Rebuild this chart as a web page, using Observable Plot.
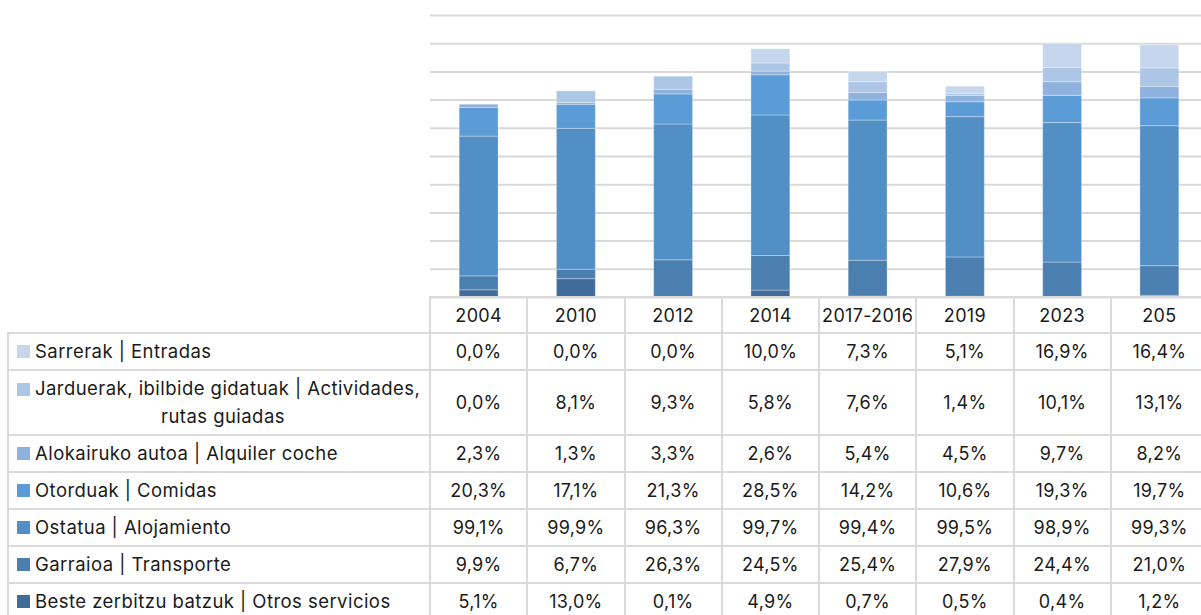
<!DOCTYPE html>
<html><head><meta charset="utf-8">
<script src="https://cdn.jsdelivr.net/npm/d3@7"></script>
<script src="https://cdn.jsdelivr.net/npm/@observablehq/plot@0.6"></script>
<style>
body{margin:0;background:#fff;font-family:Inter,"Open Sans",sans-serif;}
#wrap{position:relative;width:1201px;height:615px;overflow:hidden;}
#wrap svg{position:absolute;left:0;top:0;}
.cell{position:absolute;box-sizing:border-box;border:2px solid #dadada;display:flex;align-items:center;justify-content:center;font-size:18px;letter-spacing:0.3px;color:#1a1a1a;line-height:1.5;white-space:nowrap;}
.lab{justify-content:flex-start;padding-left:8px;font-size:18.5px;letter-spacing:0.45px;}
.sw{display:inline-block;width:13px;height:13px;margin-right:5px;vertical-align:-1px;}
</style></head><body><div id="wrap"></div>
<script>
// ---- data ----
const years = ["2004","2010","2012","2014","2017-2016","2019","2023","205"];
const seriesNames = [
  "Sarrerak | Entradas",
  "Jarduerak, ibilbide gidatuak | Actividades, rutas guiadas",
  "Alokairuko autoa | Alquiler coche",
  "Otorduak | Comidas",
  "Ostatua | Alojamiento",
  "Garraioa | Transporte",
  "Beste zerbitzu batzuk | Otros servicios"
];
const sarrerak   = [0.0, 0.0, 0.0, 10.0, 7.3, 5.1, 16.9, 16.4];
const jarduerak  = [0.0, 8.1, 9.3, 5.8, 7.6, 1.4, 10.1, 13.1];
const alokairuko = [2.3, 1.3, 3.3, 2.6, 5.4, 4.5, 9.7, 8.2];
const otorduak   = [20.3, 17.1, 21.3, 28.5, 14.2, 10.6, 19.3, 19.7];
const ostatua    = [99.1, 99.9, 96.3, 99.7, 99.4, 99.5, 98.9, 99.3];
const garraioa   = [9.9, 6.7, 26.3, 24.5, 25.4, 27.9, 24.4, 21.0];
const beste      = [5.1, 13.0, 0.1, 4.9, 0.7, 0.5, 0.4, 1.2];
const colors = ["#c6d7ed","#adc6e6","#8eb1dd","#5b9bd6","#528fc4","#4b7fb0","#416c99"];
const yTicks = d3.range(0, 201, 20);

const seriesValues = [sarrerak, jarduerak, alokairuko, otorduak, ostatua, garraioa, beste];
const stackOrder = seriesNames.slice().reverse();
const data = [];
stackOrder.forEach(s => {
  const vals = seriesValues[seriesNames.indexOf(s)];
  years.forEach((y, i) => data.push({year: y, series: s, value: vals[i]}));
});

const W = 1201, LEFT = 430;
const plot = Plot.plot({
  width: W, height: 298,
  marginTop: 15, marginBottom: 1, marginLeft: LEFT, marginRight: 0,
  style: {background: "transparent", overflow: "visible"},
  x: {type: "band", domain: years, range: [LEFT, 1208], paddingInner: 0.6, paddingOuter: 0.3, round: false, axis: null},
  y: {domain: [0, 200], axis: null},
  color: {domain: seriesNames, range: colors},
  marks: [
    Plot.ruleY(yTicks, {stroke: "#d9d9d9", strokeWidth: 2}),
    Plot.barY(data, {x: "year", y: "value", fill: "series", order: stackOrder,
      stroke: "white", strokeOpacity: 0.3, strokeWidth: 1})
  ]
});
const wrap = document.getElementById("wrap");
wrap.appendChild(plot);

// ---- data table below the chart ----
const xs = plot.scale("x");
const step = xs.step, bw = xs.bandwidth;
const colLeft = years.map(y => xs.apply(y) - (step - bw) / 2);
const fmt = v => v.toFixed(1).replace(".", ",") + "%";

function cell(x, y, w, h, html, cls) {
  const d = document.createElement("div");
  d.className = "cell" + (cls ? " " + cls : "");
  d.style.left = (x - 1) + "px"; d.style.top = (y - 1) + "px";
  d.style.width = (w + 2) + "px"; d.style.height = (h + 2) + "px";
  d.innerHTML = html;
  wrap.appendChild(d);
}
const headTop = 297, headH = 36;
years.forEach((y, i) => cell(colLeft[i], headTop, step, headH, y));
const rowH = [37, 65, 37, 37, 37, 37, 37];
let rowTop = headTop + headH;
seriesNames.forEach((s, r) => {
  const h = rowH[r];
  let label;
  if (s.startsWith("Jarduerak")) {
    const cut = s.indexOf(", rutas");
    label = `<div style="width:100%"><div><span class="sw" style="background:${colors[r]}"></span>${s.slice(0, cut + 1)}</div><div style="text-align:center">${s.slice(cut + 2)}</div></div>`;
  } else {
    label = `<span class="sw" style="background:${colors[r]}"></span>${s}`;
  }
  cell(8, rowTop, LEFT - 8, h, label, "lab");
  years.forEach((y, i) => cell(colLeft[i], rowTop, step, h, fmt(seriesValues[r][i])));
  rowTop += h;
});
</script></body></html>
